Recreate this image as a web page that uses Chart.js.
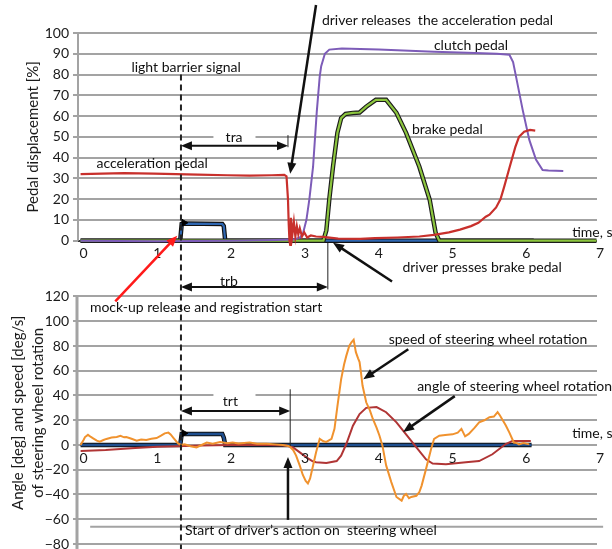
<!DOCTYPE html>
<html><head><meta charset="utf-8">
<script src="https://cdn.jsdelivr.net/npm/chart.js@4.4.1/dist/chart.umd.min.js"></script>
<style>html,body{margin:0;padding:0;background:#fff;}canvas{display:block}</style>
</head><body>
<canvas id="c" width="612" height="549"></canvas>
<script>
// ---------- data (time [s], value) ----------
const xTickLabels = [0,1,2,3,4,5,6,7];
const lightBarrierTime = 1.32;

const accelerationPedal = [[-0.04,32],[0.25,32.3],[0.55,32.5],[0.95,32.3],[1.25,32],[1.55,31.8],[1.95,31.5],[2.25,31.3],[2.55,31.5],[2.72,31.7],[2.75,31],[2.77,20],[2.78,8],[2.79,0],[2.8,-2],[2.81,11],[2.83,3],[2.85,9],[2.87,2],[2.89,7],[2.91,3],[2.93,6],[2.96,2],[2.99,4],[3.03,1.5],[3.08,2.5],[3.15,2],[3.25,1.8],[3.45,1],[3.75,0.8],[3.95,1.2],[4.25,1.5],[4.55,2],[4.75,2.8],[4.95,4],[5.1,5.3],[5.25,7],[5.35,8.6],[5.45,11.5],[5.5,12.5],[5.59,16],[5.65,20],[5.7,26],[5.77,35],[5.85,45],[5.9,50],[5.97,52.5],[6.05,53.3],[6.12,53]];
const clutchPedal = [[-0.04,0],[1.0,-0.3],[2.0,0],[2.6,0.3],[2.85,0.5],[2.93,1.5],[2.97,3],[3.02,10],[3.06,20],[3.11,35.6],[3.16,62],[3.2,79],[3.22,84],[3.27,90],[3.33,92],[3.5,92.5],[4.0,92],[4.5,91.3],[4.75,91],[5.2,90.5],[5.6,90],[5.77,89.5],[5.82,86],[5.86,79],[5.95,63],[6.04,48.5],[6.13,39],[6.22,34],[6.3,33.8],[6.5,33.5]];
const brakePedal = [[-0.04,0],[3.25,0],[3.29,5],[3.33,20],[3.38,35.6],[3.44,52],[3.49,59],[3.55,61],[3.65,61.5],[3.74,61.7],[3.83,64.5],[3.96,67.8],[4.1,67.8],[4.24,61.5],[4.37,51.9],[4.55,35.6],[4.69,19.7],[4.77,3.8],[4.82,0],[6.95,0]];
const lightBarrierTop = [[-0.04,0],[1.31,0],[1.33,8],[1.35,8.2],[1.88,8],[1.9,7],[1.92,0],[6.1,0]];
const lightBarrierBottom = [[-0.04,0],[1.31,0],[1.33,8.9],[1.88,8.9],[1.9,6],[1.92,0],[6.07,0]];
const steeringSpeed = [[-0.04,0],[0.0,4],[0.02,6.4],[0.06,8.2],[0.1,6.5],[0.13,5.4],[0.18,3.5],[0.22,2.7],[0.27,4],[0.31,4.9],[0.38,6],[0.45,6.5],[0.5,7.5],[0.55,6.2],[0.58,6.5],[0.65,5],[0.72,3.5],[0.78,4.5],[0.85,4],[0.92,5],[0.99,5.6],[1.05,7.5],[1.1,9.4],[1.15,10],[1.18,8.5],[1.22,5.6],[1.28,1.3],[1.32,0],[1.37,0.5],[1.45,-1],[1.53,-2],[1.6,0],[1.67,2],[1.75,1],[1.85,2.4],[1.95,1.5],[2.02,2],[2.1,1.2],[2.25,2],[2.35,1],[2.48,1],[2.6,0.5],[2.7,0],[2.79,-1],[2.84,-4],[2.88,-8.6],[2.93,-16.7],[2.97,-24],[3.01,-29],[3.04,-31],[3.07,-27],[3.11,-16.5],[3.15,-6],[3.2,5],[3.25,3],[3.29,2.5],[3.36,5],[3.4,13],[3.44,31.5],[3.49,53],[3.53,65],[3.56,72],[3.6,80],[3.63,83],[3.66,85],[3.69,75],[3.72,70],[3.74,67],[3.76,58],[3.78,48],[3.83,34.5],[3.88,28],[3.92,21],[3.97,14],[4.01,7.5],[4.05,-0.5],[4.1,-16.5],[4.17,-30],[4.24,-42],[4.31,-45],[4.34,-41],[4.37,-39.5],[4.41,-43],[4.44,-42],[4.51,-41],[4.55,-38],[4.58,-33],[4.64,-19.5],[4.71,-3],[4.75,5],[4.82,7.5],[4.9,8],[5.0,8.6],[5.07,10],[5.12,13],[5.17,7],[5.22,9],[5.3,14],[5.36,18.3],[5.43,20],[5.5,22.5],[5.56,23],[5.61,26.5],[5.64,24],[5.67,21],[5.72,16],[5.77,10],[5.83,2],[5.87,1.5],[5.9,0.5],[5.96,1.5],[6.04,0.5]];
const steeringAngle = [[-0.04,-4.8],[0.3,-4],[0.7,-2.5],[1.0,-1.5],[1.25,-1],[1.6,-0.5],[2.0,0],[2.5,0],[2.75,-0.5],[2.84,-2],[2.93,-6],[3.02,-10],[3.1,-13],[3.15,-14],[3.29,-14.5],[3.43,-13],[3.49,-8.6],[3.56,0.8],[3.65,15.6],[3.74,25],[3.83,30],[3.97,30.6],[4.1,26.5],[4.24,18.3],[4.37,8.6],[4.51,-2],[4.64,-11.6],[4.73,-15],[4.91,-15.5],[5.18,-14],[5.36,-13],[5.54,-7.5],[5.72,0.8],[5.81,3.2],[6.06,3.2]];
const markerTop = [[1.36,8.6]];
const markerBottom = [[1.36,9.5]];

// ---------- helpers ----------
const pts = a => a.map(p => ({x:p[0], y:p[1]}));
const FONT = 'Lato';
function line(ds, axis, color, width, order){
  return {data: pts(ds), yAxisID: axis, xAxisID:'x', borderColor: color, borderWidth: width,
    pointRadius: 0, tension: 0, fill: false, order: order};
}
const GRID = '#a3a3a3';

const annot = {
  id: 'annot',
  afterDraw(chart){
    const ctx = chart.ctx, xs = chart.scales.x, yt = chart.scales.yTop, yb = chart.scales.yBot;
    const X = t => xs.getPixelForValue(t), YT = v => yt.getPixelForValue(v), YB = v => yb.getPixelForValue(v);
    const L = chart.chartArea.left;
    ctx.save();
    // axis lines
    ctx.strokeStyle = GRID; ctx.lineWidth = 2;
    ctx.beginPath(); ctx.moveTo(L, YT(100)); ctx.lineTo(L, YT(0)); ctx.stroke();
    ctx.lineWidth = 3;
    ctx.beginPath(); ctx.moveTo(L-1, YB(120)); ctx.lineTo(L-1, YB(-84)); ctx.stroke();
    // extra line under bottom annotation
    ctx.lineWidth = 2;
    ctx.beginPath(); ctx.moveTo(X(0.09), YB(-66)); ctx.lineTo(X(7.04), YB(-66)); ctx.stroke();

    // x tick labels at the zero lines
    ctx.fillStyle = '#1a1a1a'; ctx.font = '14px ' + FONT; ctx.textAlign = 'center'; ctx.textBaseline = 'top';
    xTickLabels.forEach(v => { ctx.fillText(String(v), X(v), YT(0)+6); ctx.fillText(String(v), X(v), YB(0)+6); });

    // axis titles
    ctx.font = '15px ' + FONT; ctx.textBaseline = 'middle'; ctx.textAlign = 'center';
    ctx.save(); ctx.translate(33, YT(50)); ctx.rotate(-Math.PI/2); ctx.fillText('Pedal displacement [%]', 0, 0); ctx.restore();
    ctx.save(); ctx.translate(18, YB(26)); ctx.rotate(-Math.PI/2); ctx.fillText('Angle [deg] and speed [deg/s]', 0, 0); ctx.restore();
    ctx.save(); ctx.translate(38, YB(26)); ctx.rotate(-Math.PI/2); ctx.fillText('of steering wheel rotation', 0, 0); ctx.restore();

    function arrow(x1,y1,x2,y2,color,w,both){
      ctx.strokeStyle = color; ctx.fillStyle = color; ctx.lineWidth = w;
      const ang = Math.atan2(y2-y1, x2-x1), hl = 11, hw = 4.5;
      const head = (x,y,a) => { ctx.beginPath(); ctx.moveTo(x,y);
        ctx.lineTo(x - hl*Math.cos(a) + hw*Math.sin(a), y - hl*Math.sin(a) - hw*Math.cos(a));
        ctx.lineTo(x - hl*Math.cos(a) - hw*Math.sin(a), y - hl*Math.sin(a) + hw*Math.cos(a));
        ctx.closePath(); ctx.fill(); };
      ctx.beginPath();
      ctx.moveTo(both ? x1 + (hl-2)*Math.cos(ang) : x1, both ? y1 + (hl-2)*Math.sin(ang) : y1);
      ctx.lineTo(x2 - (hl-2)*Math.cos(ang), y2 - (hl-2)*Math.sin(ang)); ctx.stroke();
      head(x2,y2,ang); if (both) head(x1,y1,ang+Math.PI);
    }
    function vline(x,y1,y2,w){ ctx.strokeStyle='#222'; ctx.lineWidth=w; ctx.beginPath(); ctx.moveTo(x,y1); ctx.lineTo(x,y2); ctx.stroke(); }
    function text(s,x,y,align){ ctx.fillStyle='#111'; ctx.font='14px '+FONT; ctx.textAlign=align||'center'; ctx.textBaseline='middle'; ctx.fillText(s,x,y); }
    function gap(x1,x2,y){ ctx.fillStyle='#fff'; ctx.fillRect(x1, y-4, x2-x1, 8); }

    // dashed light barrier line
    ctx.save(); ctx.setLineDash([6,4]); vline(X(lightBarrierTime), YT(80), YB(-84), 2); ctx.restore();

    // top chart texts
    text('light barrier signal', X(1.39), YT(83.2));
    gap(X(1.76), X(2.33), YT(50)); text('tra', X(2.04), YT(49.5));
    arrow(X(lightBarrierTime), YT(45.7), X(2.77), YT(45.7), '#111', 2, true);
    vline(X(2.77), YT(50.8), YT(45), 1);
    text('acceleration pedal', X(0.93), YT(37));
    text('driver releases  the acceleration pedal', X(3.23), YT(106), 'left');
    arrow(X(3.15), YT(113.5), X(2.8), YT(32.2), '#111', 2.5, false);
    text('clutch pedal', X(5.25), YT(94.2));
    text('brake pedal', X(4.93), YT(53.4));
    text('time, s', X(6.62), YT(3.8), 'left');
    text('driver presses brake pedal', X(5.4), YT(-13));
    arrow(X(4.18), YT(-19.7), X(3.38), YT(-1), '#111', 2.5, false);
    text('trb', X(1.97), YT(-19.7));
    arrow(X(lightBarrierTime), YT(-22.3), X(3.31), YT(-22.3), '#111', 2, true);
    vline(X(3.31), YT(-1), YT(-23.5), 1);
    arrow(X(0.43), YT(-29.3), X(1.27), YT(2.4), '#ff1a1a', 2.5, false);
    text('mock-up release and registration start', X(1.66), YB(111.3));

    // bottom chart texts
    gap(X(1.76), X(2.33), YB(40)); text('trt', X(1.99), YB(35.5));
    arrow(X(lightBarrierTime), YB(27.4), X(2.8), YB(27.4), '#111', 2, true);
    vline(X(2.8), YB(45), YB(-1), 1);
    text('speed of steering wheel rotation', X(5.48), YB(85.5));
    arrow(X(4.4), YB(77.4), X(3.79), YB(53.2), '#111', 2.5, false);
    text('angle of steering wheel rotation', X(4.52), YB(47.6), 'left');
    arrow(X(5.03), YB(39.5), X(4.33), YB(10.5), '#111', 2.5, false);
    text('time, s', X(6.62), YB(9.7), 'left');
    text('Start of driver\u2019s action on  steering wheel', X(1.375), YB(-69.4), 'left');
    arrow(X(2.77), YB(-60.5), X(2.77), YB(-9.7), '#111', 2.5, false);
    ctx.restore();
  }
};

const gridTop = c => (c.tick && c.tick.value < 0) ? 'rgba(0,0,0,0)' : (c.tick && c.tick.value === 0) ? '#333' : GRID;

new Chart(document.getElementById('c'), {
  type: 'line',
  data: { datasets: [
    line(lightBarrierTop, 'yTop', '#111', 4.5, 10),
    line(lightBarrierTop, 'yTop', '#2f67b1', 2.2, 9),
    line(brakePedal, 'yTop', '#1c1c1c', 4.5, 8),
    line(brakePedal, 'yTop', '#8cc63e', 2.2, 7),
    line(clutchPedal, 'yTop', '#7d5cb8', 2, 6),
    line(accelerationPedal, 'yTop', '#c8302c', 2.2, 5),
    Object.assign(line(markerTop, 'yTop', '#000', 1, 1), {pointRadius: 4, pointStyle: 'triangle', rotation: 90, pointBackgroundColor: '#000', showLine: false}),
    line(lightBarrierBottom, 'yBot', '#111', 4.5, 10),
    line(lightBarrierBottom, 'yBot', '#1f4f8f', 2.5, 9),
    line(steeringAngle, 'yBot', '#b03535', 2, 6),
    line(steeringSpeed, 'yBot', '#f0922e', 2, 5),
    Object.assign(line(markerBottom, 'yBot', '#000', 1, 1), {pointRadius: 4, pointStyle: 'triangle', rotation: 90, pointBackgroundColor: '#000', showLine: false})
  ]},
  options: {
    responsive: false, animation: false, devicePixelRatio: 1,
    layout: { padding: { left: 0, top: 33, right: 15, bottom: 4 } },
    plugins: { legend: { display: false }, tooltip: { enabled: false } },
    scales: {
      x: { type: 'linear', min: -0.075, max: 6.957, display: false },
      yBot: {
        type: 'linear', position: 'left', stack: 'v', stackWeight: 248, min: -80, max: 120,
        ticks: { stepSize: 20, autoSkip: false, padding: 4, color: '#1a1a1a', font: { family: FONT, size: 14 },
          callback: v => v < 0 ? '\u2212' + Math.abs(v) : String(v) },
        grid: { color: GRID, tickColor: GRID, lineWidth: 2, tickLength: 5, drawTicks: true },
        border: { display: false },
        afterFit: s => { s.width = 78; s.paddingTop = 0; s.paddingBottom = 0; }
      },
      yTop: {
        type: 'linear', position: 'left', stack: 'v', stackWeight: 264, min: -26.9, max: 100,
        ticks: { stepSize: 10, autoSkip: false, includeBounds: false, padding: 4, color: '#1a1a1a', font: { family: FONT, size: 14 },
          callback: v => v >= 0 ? String(v) : '' },
        grid: { color: gridTop, tickColor: c => (c.tick && c.tick.value < 0) ? 'rgba(0,0,0,0)' : GRID, lineWidth: 2, tickLength: 5, drawTicks: true },
        border: { display: false },
        afterFit: s => { s.width = 78; s.paddingTop = 0; s.paddingBottom = 0; }
      }
    }
  },
  plugins: [annot]
});
</script>
</body></html>
